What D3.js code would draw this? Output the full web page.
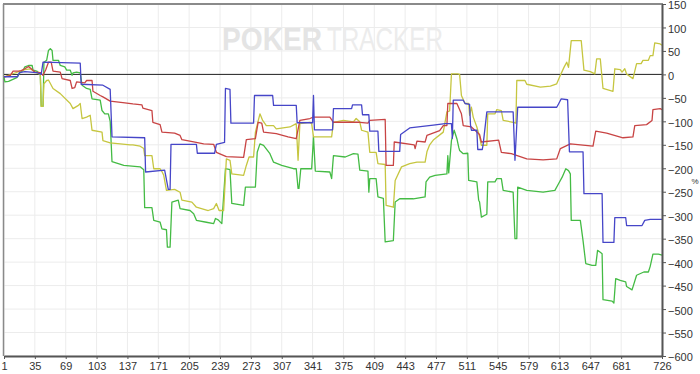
<!DOCTYPE html>
<html>
<head>
<meta charset="utf-8">
<script src="https://cdn.jsdelivr.net/npm/d3@7"></script>
<style>
  body { margin: 0; background: #fff; }
  svg { display: block; font-family: "Liberation Sans", Arial, sans-serif; }
</style>
</head>
<body>
<div id="chart"></div>
<script>
// tick labels
const xTicks = [1, 35, 69, 103, 137, 171, 205, 239, 273, 307, 341, 375, 409, 443, 477, 511, 545, 579, 613, 647, 681, 726];
const yTicks = [150, 100, 50, 0, -50, -100, -150, -200, -250, -300, -350, -400, -450, -500, -550, -600];

// series as [hand, value] points
const redSeries = [[1,-6],[8,-2],[11,7],[17,7],[20,8],[24,12],[28,17],[31,12],[35,5],[41,4],[44,-2],[47,10],[50,26],[53,26],[55,7],[63,5],[65,-9],[74,-13],[76,-30],[79,-28],[81,-16],[90,-18],[92,-13],[98,-13],[99,-36],[107,-45],[110,-48],[118,-57],[132,-60],[143,-63],[153,-65],[154,-72],[164,-77],[165,-102],[173,-107],[175,-123],[189,-125],[195,-130],[197,-139],[210,-144],[221,-148],[232,-149],[235,-166],[246,-175],[265,-177],[268,-139],[278,-137],[281,-102],[285,-104],[287,-123],[301,-126],[314,-133],[323,-137],[327,-98],[338,-94],[342,-91],[360,-91],[364,-102],[393,-102],[402,-104],[404,-98],[421,-96],[422,-194],[430,-194],[431,-144],[453,-150],[454,-158],[456,-142],[465,-144],[467,-130],[481,-120],[485,-109],[489,-109],[490,-62],[500,-62],[505,-84],[507,-109],[516,-112],[525,-128],[527,-144],[546,-140],[549,-166],[560,-169],[577,-180],[595,-182],[610,-180],[614,-158],[625,-148],[650,-153],[653,-121],[665,-125],[683,-135],[694,-133],[696,-109],[709,-107],[715,-98],[716,-75],[724,-73],[726,-75]];

const blueSeries = [[1,-5],[16,-5],[18,4],[24,6],[37,4],[42,0],[44,26],[85,24],[86,-21],[110,-23],[118,-32],[120,-133],[156,-135],[157,-208],[178,-204],[182,-245],[184,-245],[185,-149],[213,-149],[214,-168],[233,-168],[235,-149],[244,-145],[245,-30],[250,-32],[251,-104],[276,-104],[277,-45],[297,-45],[298,-66],[323,-66],[324,-103],[341,-103],[342,-45],[343,-118],[363,-118],[364,-73],[384,-73],[385,-65],[395,-65],[396,-86],[403,-86],[404,-121],[413,-121],[414,-164],[437,-164],[438,-128],[448,-114],[474,-108],[487,-105],[494,-105],[495,-136],[496,-55],[507,-55],[509,-62],[514,-64],[515,-108],[516,-119],[522,-119],[523,-160],[528,-160],[529,-148],[533,-80],[562,-80],[564,-183],[567,-70],[610,-70],[612,-63],[615,-52],[622,-54],[624,-165],[639,-165],[640,-254],[660,-254],[661,-358],[673,-358],[674,-305],[686,-305],[687,-322],[704,-322],[707,-311],[713,-309],[726,-309]];

const oliveSeries = [[1,-5],[13,3],[24,10],[30,12],[35,5],[41,0],[42,-68],[44,-68],[45,-20],[48,-13],[50,-12],[55,-30],[63,-41],[74,-62],[77,-73],[83,-66],[85,-62],[87,-94],[92,-91],[96,-87],[98,-119],[109,-123],[110,-141],[118,-146],[129,-148],[140,-150],[143,-150],[151,-153],[155,-158],[156,-173],[164,-173],[166,-201],[173,-201],[175,-207],[177,-215],[180,-247],[189,-245],[195,-251],[197,-268],[208,-272],[213,-283],[226,-290],[232,-286],[235,-275],[238,-290],[243,-290],[246,-180],[250,-183],[252,-212],[265,-215],[268,-194],[271,-176],[276,-176],[278,-123],[283,-84],[286,-98],[290,-109],[298,-109],[301,-116],[316,-112],[323,-105],[325,-183],[327,-105],[338,-102],[340,-105],[342,-133],[362,-133],[364,-102],[375,-98],[386,-101],[389,-94],[393,-101],[395,-119],[402,-123],[404,-166],[411,-166],[413,-190],[421,-192],[422,-279],[430,-283],[432,-226],[439,-197],[448,-190],[456,-187],[465,-187],[467,-165],[470,-150],[474,-140],[485,-123],[489,-80],[492,-78],[494,1],[501,1],[503,0],[505,-45],[509,-62],[513,-62],[514,-87],[516,-70],[518,-91],[522,-112],[525,-133],[527,-151],[533,-151],[534,-84],[542,-84],[544,-75],[549,-77],[551,-98],[562,-102],[565,-104],[566,-13],[575,-13],[577,-21],[592,-27],[603,-25],[610,-20],[614,-2],[618,15],[621,26],[623,15],[626,72],[637,72],[640,9],[647,6],[652,1],[654,33],[658,33],[661,-30],[672,-36],[674,12],[680,10],[682,5],[685,12],[687,1],[694,-9],[698,23],[703,23],[705,30],[711,30],[713,40],[716,40],[718,67],[724,65],[726,62]];

const greenSeries = [[1,-6],[2,-16],[6,-15],[15,-7],[19,5],[22,8],[24,16],[28,19],[32,19],[33,9],[37,7],[41,1],[42,-68],[44,-68],[45,26],[48,30],[50,51],[52,55],[54,51],[55,30],[61,30],[63,19],[68,16],[70,9],[74,9],[76,-2],[77,3],[81,5],[85,3],[87,-23],[92,-30],[96,-32],[98,-52],[107,-55],[109,-77],[112,-84],[116,-84],[118,-100],[120,-186],[133,-194],[151,-197],[155,-203],[156,-284],[164,-284],[166,-311],[173,-315],[175,-329],[180,-331],[181,-368],[184,-368],[186,-272],[193,-268],[195,-286],[206,-290],[210,-297],[213,-311],[224,-315],[232,-318],[234,-307],[237,-310],[241,-318],[245,-201],[250,-203],[252,-275],[265,-279],[267,-240],[278,-240],[280,-166],[283,-148],[287,-151],[294,-169],[298,-187],[307,-194],[320,-201],[323,-201],[325,-243],[326,-243],[328,-201],[340,-201],[342,-133],[344,-206],[360,-208],[362,-222],[364,-173],[377,-176],[386,-169],[391,-170],[393,-204],[402,-206],[403,-251],[404,-222],[411,-222],[413,-261],[419,-264],[421,-357],[430,-354],[432,-272],[437,-265],[452,-265],[465,-261],[466,-229],[470,-219],[476,-215],[489,-212],[490,-173],[491,-210],[494,-141],[497,-119],[500,-137],[502,-155],[503,-162],[507,-169],[512,-168],[513,-226],[522,-229],[524,-268],[525,-272],[527,-304],[533,-298],[534,-229],[542,-229],[544,-222],[549,-222],[551,-247],[562,-251],[564,-350],[566,-350],[567,-240],[577,-247],[595,-251],[608,-247],[612,-233],[616,-219],[620,-201],[623,-205],[625,-212],[626,-311],[636,-311],[639,-354],[642,-403],[649,-407],[653,-407],[655,-375],[658,-379],[660,-382],[661,-480],[671,-483],[673,-487],[675,-435],[680,-439],[686,-442],[687,-452],[693,-459],[698,-428],[706,-421],[711,-421],[713,-409],[716,-383],[722,-383],[726,-385]];

const series = [
  {name: "green", color: "#44bb44", data: greenSeries},
  {name: "olive", color: "#c6c640", data: oliveSeries},
  {name: "red", color: "#c84444", data: redSeries},
  {name: "blue", color: "#4646c8", data: blueSeries}
];

const width = 700, height = 374;
const svg = d3.select("#chart").append("svg")
  .attr("width", width)
  .attr("height", height);

const x = d3.scaleLinear().domain([1, 726]).range([4, 662]);
const y = d3.scaleLinear().domain([-600, 150]).range([356, 4]);

// grid
const grid = svg.append("g").attr("class", "grid");
grid.selectAll(".vg").data(xTicks).enter().append("line")
  .attr("x1", d => x(d)).attr("x2", d => x(d))
  .attr("y1", 4).attr("y2", 356)
  .style("stroke", "#ececec").style("stroke-width", 1);
grid.selectAll(".hg").data(yTicks).enter().append("line")
  .attr("x1", 4).attr("x2", 662)
  .attr("y1", d => y(d)).attr("y2", d => y(d))
  .style("stroke", "#ececec").style("stroke-width", 1);

// watermark
svg.append("text")
  .attr("x", 222).attr("y", 50)
  .attr("textLength", 100).attr("lengthAdjust", "spacingAndGlyphs")
  .style("font-size", "32px").style("font-weight", "bold")
  .style("fill", "#e4e4e4")
  .text("POKER");
svg.append("text")
  .attr("x", 327).attr("y", 50)
  .attr("textLength", 116).attr("lengthAdjust", "spacingAndGlyphs")
  .style("font-size", "32px")
  .style("fill", "#ececec")
  .text("TRACKER");

// frame
svg.append("line").attr("x1", 3).attr("x2", 663).attr("y1", 4).attr("y2", 4)
  .style("stroke", "#8a8a8a").style("stroke-width", 2);
svg.append("line").attr("x1", 3.5).attr("x2", 3.5).attr("y1", 4).attr("y2", 356)
  .style("stroke", "#8a8a8a").style("stroke-width", 1.5);

// zero line
svg.append("line").attr("x1", 4).attr("x2", 662).attr("y1", y(0)).attr("y2", y(0))
  .style("stroke", "#222").style("stroke-width", 1);

// lines
const line = d3.line().x(d => x(d[0])).y(d => y(d[1]));
series.forEach(s => {
  svg.append("path")
    .datum(s.data)
    .attr("d", line)
    .style("fill", "none")
    .style("stroke", s.color)
    .style("stroke-width", 1.3)
    .style("stroke-linejoin", "round");
});

// axes
const yAxis = svg.append("g")
  .attr("transform", "translate(662,0)")
  .call(d3.axisRight(y).tickValues(yTicks).tickSize(4).tickSizeOuter(0).tickPadding(2));
const xAxis = svg.append("g")
  .attr("transform", "translate(0,356)")
  .call(d3.axisBottom(x).tickValues(xTicks).tickSize(3).tickSizeOuter(0).tickPadding(3));

[yAxis, xAxis].forEach(a => {
  a.select(".domain").style("stroke", "#555").style("stroke-width", 2);
  a.selectAll(".tick line").style("stroke", "#555");
  a.selectAll("text").style("fill", "#333").style("font-size", "11px")
    .style("font-family", "\"Liberation Sans\", Arial, sans-serif");
});
yAxis.selectAll("text").attr("dy", "0.45em");

svg.append("text")
  .attr("x", 695).attr("y", 184)
  .attr("text-anchor", "middle")
  .style("font-size", "8px")
  .style("fill", "#333")
  .text("%");
</script>
</body>
</html>
